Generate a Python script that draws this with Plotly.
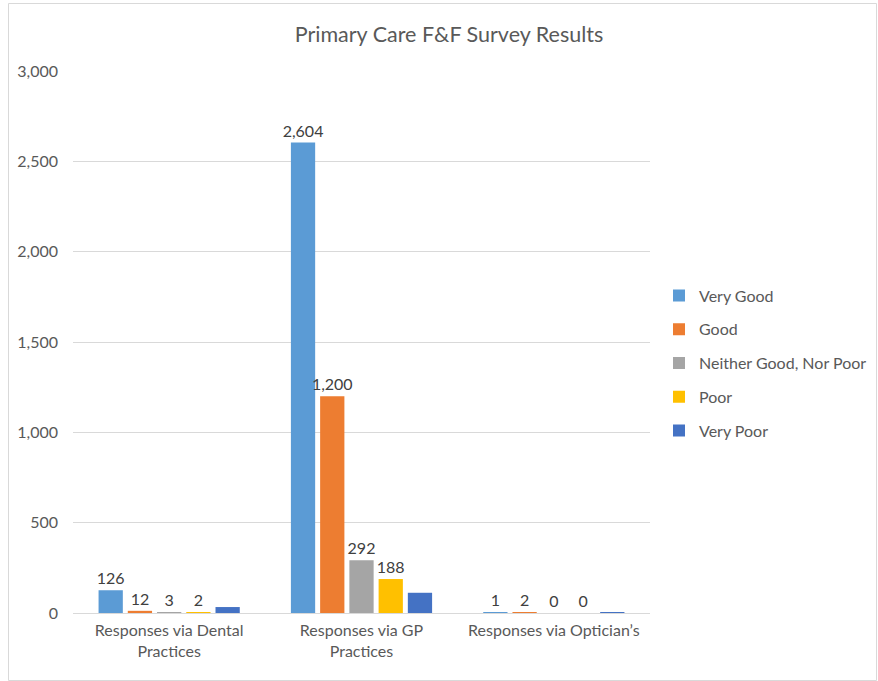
import plotly.graph_objects as go

# Survey data
categories = ["Responses via Dental<br>Practices", "Responses via GP<br>Practices", "Responses via Optician’s"]
series_names = ["Very Good", "Good", "Neither Good, Nor Poor", "Poor", "Very Poor"]
very_good = [126, 2604, 1]
good = [12, 1200, 2]
neither = [3, 292, 0]
poor = [2, 188, 0]
very_poor = [33, 112, 3]
colors = ["#5B9BD5", "#ED7D31", "#A5A5A5", "#FFC000", "#4472C4"]
show_labels = [True, True, True, True, False]

series_values = [very_good, good, neither, poor, very_poor]

FONT = "Lato, sans-serif"

fig = go.Figure()
for name, vals, col, lab in zip(series_names, series_values, colors, show_labels):
    fig.add_trace(go.Bar(
        name=name,
        x=categories,
        y=vals,
        marker=dict(color=col, line=dict(width=0)),
        text=[f"{v:,}" for v in vals] if lab else None,
        textposition="outside" if lab else "none",
        constraintext="none",
        textfont=dict(family=FONT, size=16, color="#404040"),
        cliponaxis=False,
        legendgroup=name,
    ))

L, R, T, B = 73, 228, 71, 68
W, H = 878, 681
pw, ph = W - L - R, H - T - B

def px_x(p):
    return (p - L) / pw

def px_y(p):
    return (H - B - p) / ph

fig.update_layout(
    width=W, height=H,
    margin=dict(l=L, r=R, t=T, b=B, autoexpand=False),
    paper_bgcolor="white",
    plot_bgcolor="white",
    font=dict(family=FONT, size=16, color="#595959"),
    title=dict(text="Primary Care F&F Survey Results", x=449 / W, xanchor="center",
               y=1 - 34 / H, yanchor="middle",
               font=dict(family=FONT, size=21.5, color="#595959")),
    barmode="group",
    bargap=0.24,
    bargroupgap=0.17,
    showlegend=True,
    legend=dict(x=px_x(659), xanchor="left", y=px_y(363), yanchor="middle",
                font=dict(family=FONT, size=16, color="#595959"), tracegroupgap=10,
                itemwidth=30, bgcolor="rgba(0,0,0,0)"),
    xaxis=dict(showline=False, ticks="", showgrid=False, ticklabelstandoff=6,
               tickfont=dict(family=FONT, size=16, color="#595959")),
    yaxis=dict(range=[0, 3000], dtick=500, tickformat=",", showgrid=True,
               gridcolor="#D9D9D9", gridwidth=1, zeroline=True, zerolinecolor="#D9D9D9",
               zerolinewidth=1, showline=False, ticks="", ticklabelstandoff=14,
               tickfont=dict(family=FONT, size=16, color="#595959")),
    shapes=[dict(type="rect", xref="paper", yref="paper",
                 x0=px_x(8.5), x1=px_x(876.5), y0=px_y(680.5), y1=px_y(3.5),
                 line=dict(color="#D9D9D9", width=1), fillcolor="rgba(0,0,0,0)",
                 layer="below")],
)

fig.write_html("out.html")
